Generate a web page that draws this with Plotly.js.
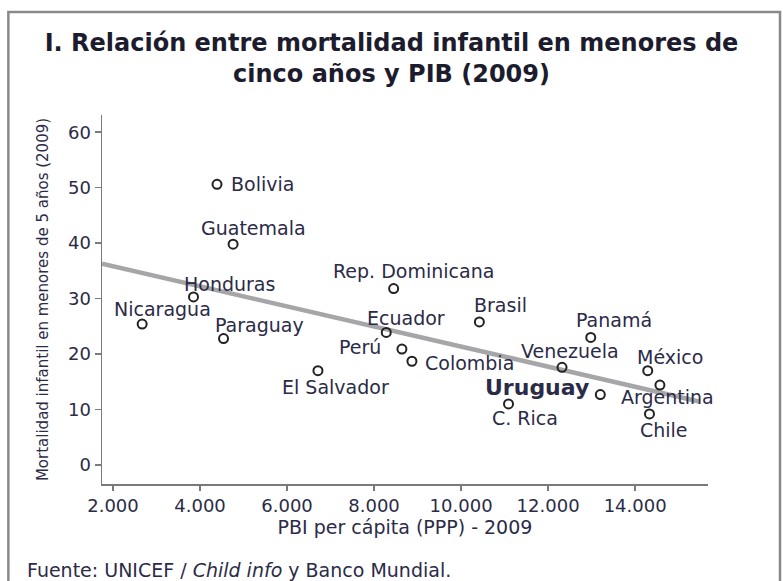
<!DOCTYPE html>
<html>
<head>
<meta charset="utf-8">
<script src="https://cdn.plot.ly/plotly-3.0.1.min.js"></script>
<style>html,body{margin:0;padding:0;background:#fff;}#chart{width:783px;height:581px;}</style>
</head>
<body>
<div id="chart"></div>
<script>
// ---- data ----
const countries = ["Bolivia","Guatemala","Honduras","Nicaragua","Paraguay","El Salvador",
  "Rep. Dominicana","Ecuador","Perú","Colombia","Brasil","C. Rica","Venezuela",
  "Panamá","Uruguay","México","Argentina","Chile"];
const pibPerCapita = [4390,4760,3850,2670,4540,6710,8450,8280,8640,8870,10420,11090,12320,12980,13200,14290,14570,14330];
const mortalidad = [50.6,39.8,30.3,25.4,22.8,17.0,31.8,23.9,20.9,18.7,25.8,11.0,17.6,23.0,12.7,17.0,14.4,9.2];
const trendX = [1747,15490];
const trendY = [36.3,11.4];
const xTicks = [2000,4000,6000,8000,10000,12000,14000];
const yTicks = [0,10,20,30,40,50,60];

// ---- label placement (styling only) ----
const labelStyle = {
  "Bolivia":{xa:"left",dx:12,dy:0},
  "Guatemala":{xa:"center",dx:20,dy:-16},
  "Honduras":{xa:"center",dx:36,dy:-13},
  "Nicaragua":{xa:"center",dx:20,dy:-15},
  "Paraguay":{xa:"center",dx:36,dy:-14},
  "El Salvador":{xa:"center",dx:18,dy:16},
  "Rep. Dominicana":{xa:"center",dx:20,dy:-18},
  "Ecuador":{xa:"center",dx:20,dy:-14},
  "Perú":{xa:"right",dx:-19,dy:-2},
  "Colombia":{xa:"left",dx:11,dy:2},
  "Brasil":{xa:"center",dx:21,dy:-17},
  "C. Rica":{xa:"center",dx:16,dy:14},
  "Venezuela":{xa:"center",dx:8,dy:-16},
  "Panamá":{xa:"center",dx:23,dy:-17},
  "Uruguay":{xa:"right",dx:-9,dy:-7,bold:true},
  "México":{xa:"center",dx:22,dy:-14},
  "Argentina":{xa:"center",dx:8,dy:12},
  "Chile":{xa:"center",dx:15,dy:16}
};

const textColor = "#2b2b48";
const fontFam = "DejaVu Sans, Noto Sans, sans-serif";

const traces = [
  {x: trendX, y: trendY, mode: "lines", type: "scatter",
   line: {color: "#a6a6a8", width: 4.5}, hoverinfo: "skip", showlegend: false},
  {x: pibPerCapita, y: mortalidad, text: countries, mode: "markers", type: "scatter",
   marker: {symbol: "circle-open", size: 9, color: "#222", line: {width: 2, color: "#222"}},
   showlegend: false}
];

const annotations = countries.map((c, i) => {
  const s = labelStyle[c];
  return {
    x: pibPerCapita[i], y: mortalidad[i], xref: "x", yref: "y",
    text: s.bold ? "<b>" + c + "</b>" : c, showarrow: false,
    xanchor: s.xa, yanchor: "middle", xshift: s.dx, yshift: -s.dy,
    font: {family: fontFam, size: s.bold ? 22 : 19, color: textColor}
  };
});

annotations.push({
  xref: "paper", yref: "paper", x: -0.1265, y: -0.233, xanchor: "left", yanchor: "middle",
  text: "Fuente: UNICEF / <i>Child info</i> y Banco Mundial.", showarrow: false,
  font: {family: fontFam, size: 19, color: textColor}
});

const layout = {
  width: 783, height: 581, autosize: false,
  paper_bgcolor: "#fff", plot_bgcolor: "#fff",
  margin: {l: 102, r: 75, t: 115, b: 97},
  separators: ",.",
  title: {
    text: "I. Relación entre mortalidad infantil en menores de<br>cinco años y PIB (2009)",
    x: 0.5, xref: "container", y: 1 - 51/581, yref: "container", yanchor: "top",
    font: {family: fontFam, size: 24, color: "#1c1c2e", weight: "bold"}
  },
  xaxis: {
    range: [1747, 15675], tickvals: xTicks, tickformat: ",d",
    showline: true, linecolor: "#7a7a7a", linewidth: 1.5,
    ticks: "outside", ticklen: 5, tickcolor: "#7a7a7a", tickwidth: 1.5,
    showgrid: false, zeroline: false,
    tickfont: {family: fontFam, size: 18, color: textColor},
    title: {text: "PBI per cápita (PPP) - 2009", standoff: 2,
            font: {family: fontFam, size: 19, color: textColor}}
  },
  yaxis: {
    range: [-3.43, 63.1], tickvals: yTicks,
    showline: true, linecolor: "#7a7a7a", linewidth: 1.5,
    ticks: "outside", ticklen: 6, tickcolor: "#7a7a7a", tickwidth: 1.5,
    showgrid: false, zeroline: false,
    tickfont: {family: fontFam, size: 18, color: textColor},
    title: {text: "Mortalidad infantil en menores de 5 años (2009)", standoff: 15,
            font: {family: fontFam, size: 15, color: textColor}}
  },
  shapes: [{
    type: "path", xref: "paper", yref: "paper",
    path: "M -0.1545 -0.27 L -0.1545 1.2791 L 1.1188 1.2791 L 1.1188 -0.30",
    line: {color: "#8a8a8a", width: 2.5}, layer: "below"
  }],
  annotations: annotations
};

Plotly.newPlot("chart", traces, layout, {displayModeBar: false, staticPlot: true});
</script>
</body>
</html>
